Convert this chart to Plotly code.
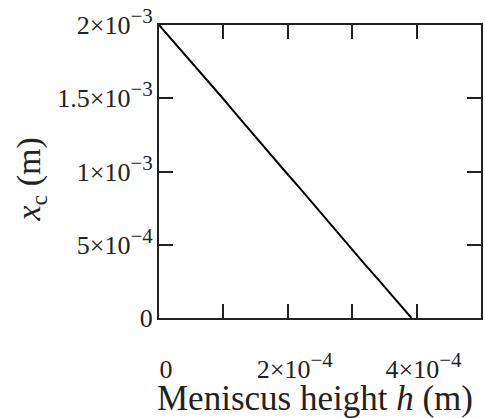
import plotly.graph_objects as go

# meniscus height h (m) vs critical position x_c (m)
h_vals = [0.0, 0.25e-4, 0.49e-4, 0.74e-4, 0.99e-4, 1.23e-4, 1.47e-4, 1.72e-4, 1.96e-4,
          2.21e-4, 2.45e-4, 2.69e-4, 2.94e-4, 3.18e-4, 3.43e-4, 3.67e-4, 3.92e-4]
xc_vals = [2.0e-3, 1.875e-3, 1.75e-3, 1.625e-3, 1.5e-3, 1.375e-3, 1.25e-3, 1.125e-3, 1.0e-3,
           0.875e-3, 0.75e-3, 0.625e-3, 0.5e-3, 0.375e-3, 0.25e-3, 0.125e-3, 0.0]

sup = '<sup><span style="font-size:21px">{}</span></sup>'
x_tickvals = [0, 1e-4, 2e-4, 3e-4, 4e-4, 5e-4]
x_ticktext = ["0", "", "2×10" + sup.format("−4"), "", "4×10" + sup.format("−4"), ""]
y_tickvals = [0, 5e-4, 1e-3, 1.5e-3, 2e-3]
y_ticktext = ["0", "5×10" + sup.format("−4"), "1×10" + sup.format("−3"),
              "1.5×10" + sup.format("−3"), "2×10" + sup.format("−3")]

x_title = "Meniscus height <i>h</i> (m)"
y_title = "<i>x</i><sub>c</sub> (m)"

font = "Liberation Serif, Times New Roman, serif"

fig = go.Figure(go.Scatter(
    x=h_vals, y=xc_vals, mode="lines",
    line=dict(color="black", width=2),
    showlegend=False, cliponaxis=False,
))

axis_style = dict(
    showline=True, linecolor="#222", linewidth=2, mirror="ticks",
    ticks="inside", ticklen=14, tickwidth=2, tickcolor="#222",
    showgrid=False, zeroline=False, automargin=False,
    ticklabeloverflow="allow",
    tickfont=dict(family=font, size=26, color="#222"),
)

fig.update_xaxes(
    range=[0, 5e-4], tickvals=x_tickvals, ticktext=x_ticktext,
    ticklabelstandoff=27, ticklabelshift=7,
    **axis_style,
)
fig.update_yaxes(
    range=[0, 2e-3], tickvals=y_tickvals, ticktext=y_ticktext,
    ticklabelstandoff=-1,
    **axis_style,
)

# axis titles as annotations so they sit where the original has them
fig.add_annotation(
    text=x_title, xref="paper", yref="paper", x=0.5, y=0,
    xanchor="center", yanchor="middle", xshift=-5, yshift=-80,
    showarrow=False, font=dict(family=font, size=35, color="#222"),
)
fig.add_annotation(
    text=y_title, xref="paper", yref="paper", x=0, y=0.5,
    xanchor="center", yanchor="middle", xshift=-129, yshift=-8,
    textangle=-90, showarrow=False,
    font=dict(family=font, size=34, color="#222"),
)

fig.update_layout(
    width=485, height=418,
    margin=dict(l=158.5, r=3.5, t=25, b=99.5, pad=0),
    plot_bgcolor="white", paper_bgcolor="white",
)

# drop the default 8px body margin so the figure fills the window
fig.write_html("out.html", config={"displayModeBar": False},
               post_script="document.body.style.margin='0';")
